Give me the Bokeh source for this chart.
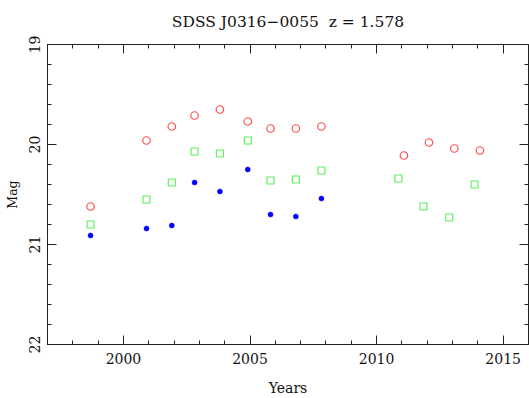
from bokeh.plotting import figure
from bokeh.models import Range1d, FixedTicker, LinearAxis, Title, CustomLabelingPolicy
from bokeh.embed import file_html
from bokeh.resources import INLINE

# Data
red_years = [1998.70, 2000.91, 2001.91, 2002.81, 2003.81, 2004.91, 2005.81, 2006.81,
             2007.82, 2011.08, 2012.07, 2013.07, 2014.08]
red_mag = [20.62, 19.96, 19.82, 19.71, 19.65, 19.77, 19.84, 19.84,
           19.82, 20.11, 19.98, 20.04, 20.06]

green_years = [1998.70, 2000.91, 2001.91, 2002.81, 2003.81, 2004.91, 2005.81, 2006.81,
               2007.82, 2010.86, 2011.85, 2012.87, 2013.87]
green_mag = [20.80, 20.55, 20.38, 20.07, 20.09, 19.96, 20.36, 20.35,
             20.26, 20.34, 20.62, 20.73, 20.40]

blue_years = [1998.70, 2000.91, 2001.91, 2002.81, 2003.81, 2004.91, 2005.81, 2006.81, 2007.82]
blue_mag = [20.91, 20.84, 20.81, 20.38, 20.47, 20.25, 20.70, 20.72, 20.54]

x_major = [2000, 2005, 2010, 2015]
x_minor = list(range(1997, 2017))
y_major = [19, 20, 21, 22]
y_minor = [round(19 + 0.2 * i, 1) for i in range(16)]

TITLE = "SDSS J0316\u22120055 \u00a0z = 1.578"

FONT = "DejaVu Serif"
AX = "#222222"
TXT = "#111111"

p = figure(width=529, height=398, output_backend="svg", toolbar_location=None,
           x_range=Range1d(1997, 2016), y_range=Range1d(22, 19),
           min_border_left=47, min_border_right=1, min_border_top=43, min_border_bottom=53,
           x_axis_label="Years", y_axis_label="Mag")
p.title = Title(text=TITLE, align="center", vertical_align="top",
                text_font=FONT, text_font_size="15.5px", text_font_style="normal",
                text_color=TXT, offset=0, standoff=24)
p.grid.visible = False
p.outline_line_color = AX
p.outline_line_width = 1
p.background_fill_color = "white"
p.border_fill_color = "white"

def style(ax):
    ax.axis_line_color = AX
    ax.major_tick_line_color = AX
    ax.minor_tick_line_color = AX
    ax.major_tick_in = 9
    ax.major_tick_out = 0
    ax.minor_tick_in = 4
    ax.minor_tick_out = 0
    ax.major_label_text_font = FONT
    ax.major_label_text_font_size = "14px"
    ax.major_label_text_color = TXT
    ax.axis_label_text_font = FONT
    ax.axis_label_text_font_style = "normal"
    ax.axis_label_text_color = TXT

p.xaxis.ticker = FixedTicker(ticks=x_major, minor_ticks=x_minor)
p.yaxis.ticker = FixedTicker(ticks=y_major, minor_ticks=y_minor)
style(p.xaxis[0])
style(p.yaxis[0])
p.xaxis.axis_label_text_font_size = "14px"
p.yaxis.axis_label_text_font_size = "12.5px"
p.xaxis.major_label_standoff = 8
p.xaxis.axis_label_standoff = 13
p.yaxis.major_label_orientation = "vertical"
p.yaxis.major_label_standoff = 8
p.yaxis.axis_label_standoff = 6

hide = CustomLabelingPolicy(code="""
for (const i of indices) { indices.unset(i) }
return indices
""")

top = LinearAxis(ticker=FixedTicker(ticks=x_major, minor_ticks=x_minor),
                 fixed_location=19, major_label_policy=hide)
style(top)
p.add_layout(top, "above")
right = LinearAxis(ticker=FixedTicker(ticks=y_major, minor_ticks=y_minor),
                   fixed_location=2016, major_label_policy=hide)
style(right)
p.add_layout(right, "right")

p.scatter(red_years, red_mag, marker="circle", size=7.5, fill_color=None,
          line_color="#ff4d4d", line_width=1.2)
p.scatter(green_years, green_mag, marker="square", size=7, fill_color=None,
          line_color="#5ef05e", line_width=1.2)
p.scatter(blue_years, blue_mag, marker="circle", size=5, fill_color="#0000ff",
          line_color="#0000ff", line_width=0.5)

open("out.html", "w").write(file_html(p, INLINE))
